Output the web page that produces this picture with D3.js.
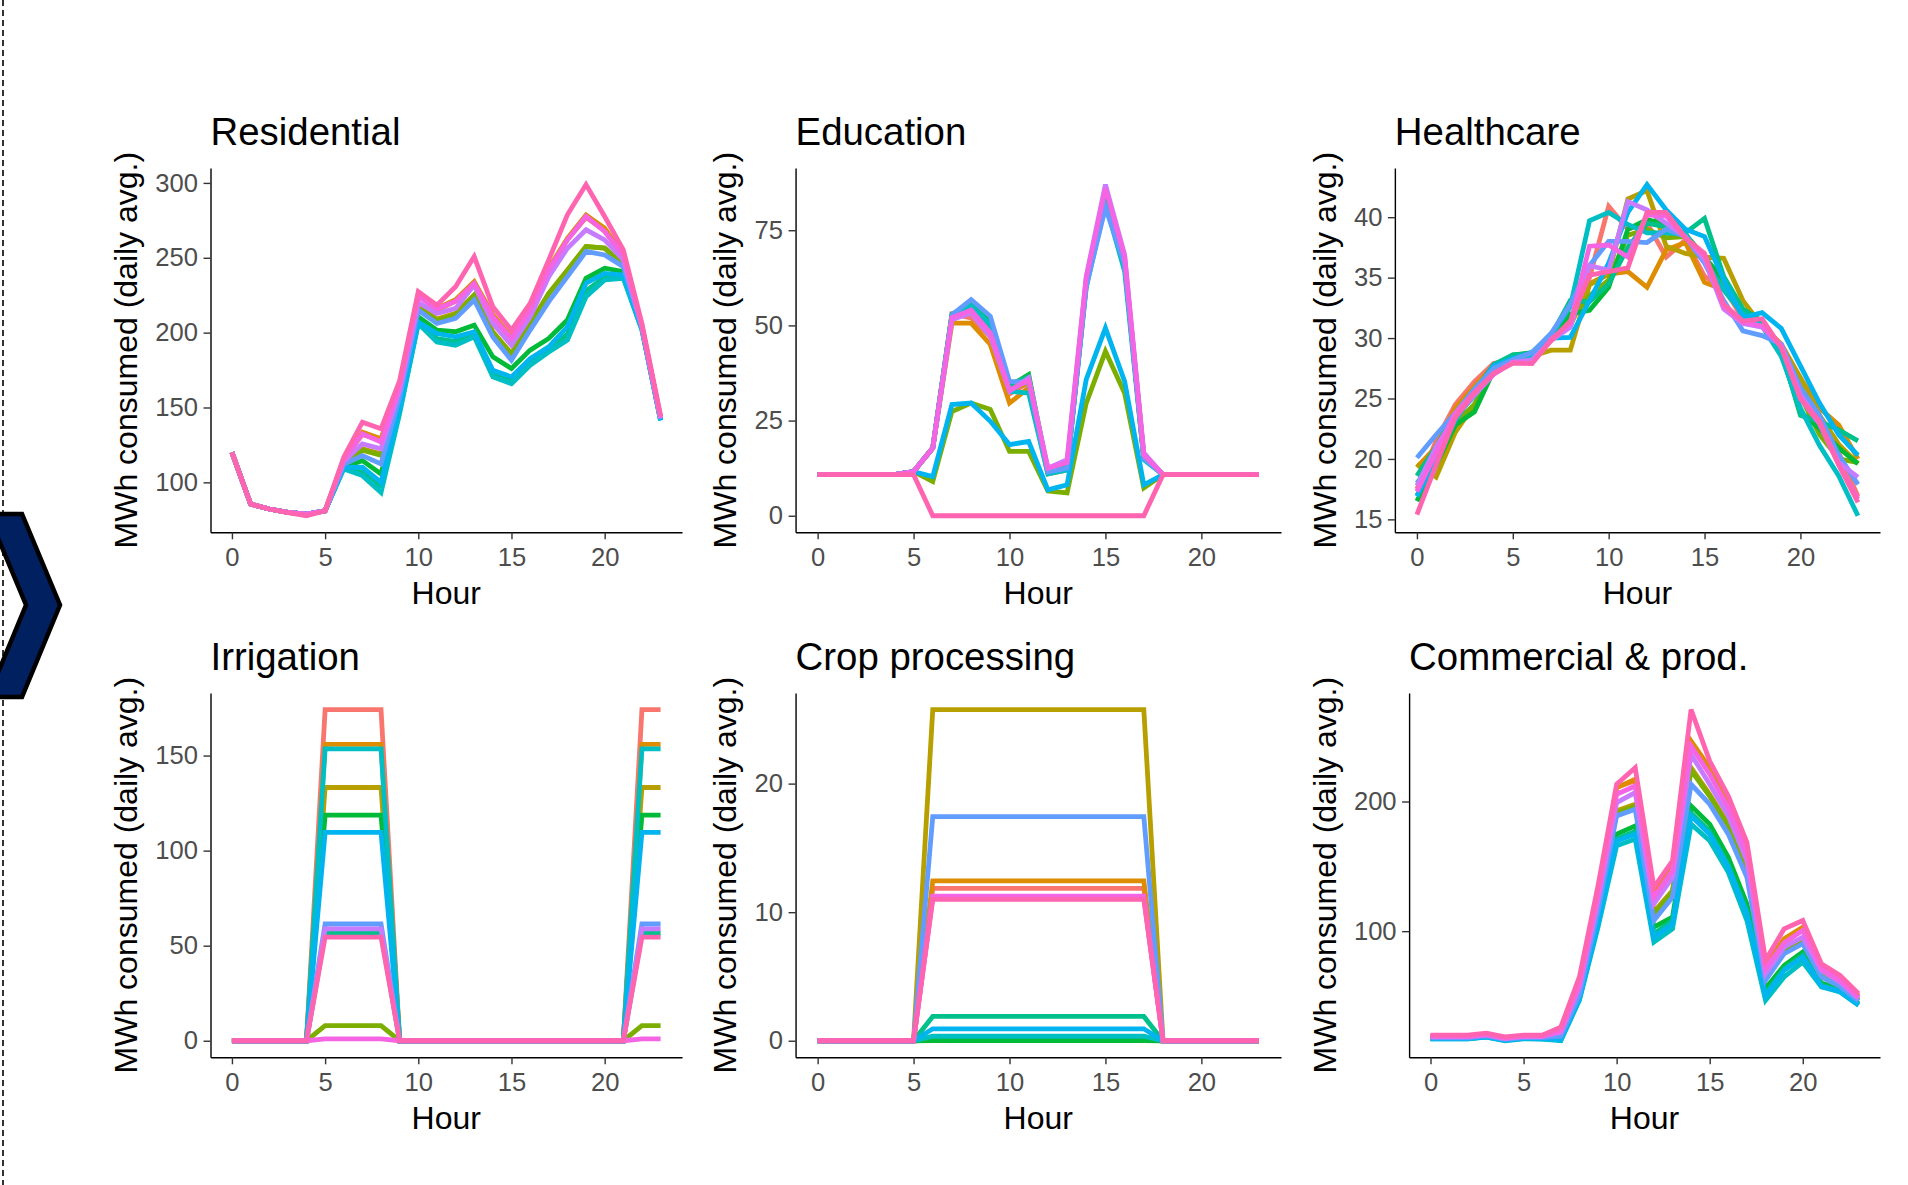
<!DOCTYPE html>
<html>
<head>
<meta charset="utf-8">
<script src="https://cdn.jsdelivr.net/npm/d3@7"></script>
<style>
body { margin: 0; background: #fff; }
svg { display: block; }
</style>
</head>
<body>
<svg id="chart" width="1908" height="1185"></svg>
<script>
// hour of day on the x axis
var hours = [0,1,2,3,4,5,6,7,8,9,10,11,12,13,14,15,16,17,18,19,20,21,22,23];
var xTicks = [0,5,10,15,20];

// ggplot hue palette, 12 series (drawn in this order, last on top)
var seriesColors = ['#F8766D','#DE8C00','#B79F00','#7CAE00','#00BA38','#00C08B',
	'#00BFC4','#00B4F0','#619CFF','#C77CFF','#F564E3','#FF64B0'];

var residential = [
	[120,85.5,82.2,80,78.8,81,115,132,128,165,225,215,221,233,211,196,215,242,262,277,268,251,204,143],
	[120,85.5,82.2,80,78.8,81,115,133.5,129.1,166,226,216.2,222,234,212,197,216,243,263,278.5,269.8,252,204,143],
	[120,85.5,82.2,80,78.8,81,113,122.4,119,160,218,209,213,225.1,200.6,186,206.1,226.2,241.9,257.5,256.4,246,204,143],
	[120,85.5,82.2,80,78.8,81,113,121.5,118,159,217,208,212,225,200,185.5,205.5,226,241.5,257.5,256.4,245,204,143],
	[120,85.5,82.2,80,78.8,81,110.5,114.5,105.6,153,210.6,201.7,200.6,205,183.8,176,188.3,196.1,208.4,236.3,243,240.8,203,142],
	[120,85.5,82.2,80,78.8,81,109.5,107,97,148,206.5,196,194,198.5,172.5,167.5,180,188.5,199,228,237,237.5,202,141.5],
	[120,85.5,82.2,80,78.8,81,109,104.5,93.3,146,206.1,193.8,191.6,197.2,170.4,165.9,178.2,187.1,195,224,235.2,236.3,201.7,141.3],
	[120,85.5,82.2,80,78.8,81,110,110.1,100,150,207,199.4,197.2,200.6,174.9,170.4,182.7,190.5,203.9,233,239.6,238.5,203,141.5],
	[120,85.5,82.2,80,78.8,81,112,117.9,112.3,157,215,206.1,209.5,221.8,197.2,181.6,201.7,220.7,237.4,254.2,251.9,244.1,204,142.5],
	[120,85.5,82.2,80,78.8,81,114,125.7,122.4,162,220,212.8,216.2,231.8,206.1,191.6,210.6,237.4,256.4,268.7,262,248.6,204,143],
	[120,85.5,82.2,80,78.8,81,115,132.5,127,164,224,216,221,232.9,210.6,196.1,215,241.9,262,277.6,267.6,251.9,204,143],
	[120,85.5,82.2,79.8,77.7,81,116.8,140.2,135.8,168,227.4,218.4,230.7,250.8,217.3,201.7,219.5,248.6,278.7,298.9,277.6,255.3,206.1,144.7]
];

var education = [
	[10.8,10.8,10.8,10.8,10.8,11.6,17.8,53,52,47,32,35,12,13,62,85,67,16,10.8,10.8,10.8,10.8,10.8,10.8],
	[10.8,10.8,10.8,10.8,10.8,11.6,17.8,50.6,50.6,45,29.6,33.6,11,12,61,84,66,15,10.8,10.8,10.8,10.8,10.8,10.8],
	[10.8,10.8,10.8,10.8,10.8,11.6,17.8,52,54,49,33,35,12,13,61,83,66,15,10.8,10.8,10.8,10.8,10.8,10.8],
	[10.8,10.8,10.8,10.8,10.8,11.6,9,27.4,29.6,27.9,16.9,16.9,6.5,6,29.6,43.2,32.2,7.3,10.8,10.8,10.8,10.8,10.8,10.8],
	[10.8,10.8,10.8,10.8,10.8,11.6,17.8,53,55.5,51,34,37.1,11.5,12.5,61,84,67,15.5,10.8,10.8,10.8,10.8,10.8,10.8],
	[10.8,10.8,10.8,10.8,10.8,11.6,17.8,52.5,55.5,50.5,34.5,36.5,11.5,12.5,61.5,84.5,66.5,15.5,10.8,10.8,10.8,10.8,10.8,10.8],
	[10.8,10.8,10.8,10.8,10.8,11.6,17.8,52.5,55,50,32.7,32.2,11,12,60,82,64.2,14.7,10.8,10.8,10.8,10.8,10.8,10.8],
	[10.8,10.8,10.8,10.8,10.8,11.6,10.3,29.2,29.6,24.8,18.7,19.5,6.8,8.1,35.8,49.3,35.3,8.1,10.8,10.8,10.8,10.8,10.8,10.8],
	[10.8,10.8,10.8,10.8,10.8,11.6,17.8,52.8,56.8,52.4,35.3,35,11.5,12.5,60.3,80.9,66,15,10.8,10.8,10.8,10.8,10.8,10.8],
	[10.8,10.8,10.8,10.8,10.8,11.6,17.8,51.5,53.3,47.1,32.7,36.2,12.5,14.7,62.9,87,68.6,16.5,10.8,10.8,10.8,10.8,10.8,10.8],
	[10.8,10.8,10.8,10.8,10.8,11.6,17.8,52,54,48,33,35.5,12.5,14,62.5,86,68,16,10.8,10.8,10.8,10.8,10.8,10.8],
	[10.8,10.8,10.8,10.8,10.8,10.8,0,0,0,0,0,0,0,0,0,0,0,0,10.8,10.8,10.8,10.8,10.8,10.8]
];

var healthcare = [
	[17.5,21.5,24.5,26.4,27.9,28.2,28.5,30,31.5,35,40.9,39,39.5,36.7,38.1,35.1,34.2,31.6,31,29.2,25.9,23.1,20.5,16.9],
	[19.3,21,24.2,26,27.7,28.2,28.4,30,31,34.5,35.3,35.5,34.2,37.3,37.9,34.6,34,32,31,29.5,26.7,24.2,22.8,20],
	[19.6,18.5,22.2,24.5,27.2,28.2,28.5,29,29,34.4,35.3,41.5,42.2,37.6,37,36.7,36.6,33.1,31,29.3,26.7,23.6,21.2,19.6],
	[17,19.5,23,24.5,27.2,28.4,28.6,30,31.5,33.5,34.8,38.5,39,38.3,38.4,36.7,34.5,32.1,31,28.8,25.2,22,20,19.7],
	[16.5,19.5,22.8,23.9,27.3,28.6,28.8,30.3,32,32.3,34.2,39,39.8,39.4,38.6,36.7,34.8,32.3,31.2,28.7,23.9,22.5,20.9,19.6],
	[18.6,21,23.8,25.5,27.8,28.6,28.7,30.2,33.1,33,34.5,37.5,39.5,39.2,38.7,39.9,35.1,32.4,31.4,29,23.6,23.1,22.4,21.5],
	[18,20,23.5,25.2,27.6,28.3,28.6,30.2,32.6,39.7,40.4,39.4,38.7,38.7,38.6,36.4,34,32,31,28.5,24.2,21.1,18.6,15.3],
	[16.9,20,23.2,25.5,27.7,28.3,28.8,30,30.05,33.1,36.2,40.4,42.7,40.6,39,38.4,34.8,31.7,32.1,30.8,27.7,24.6,22,20.3],
	[20.1,22,23.8,25.8,27.5,28.2,28.8,30.4,32.8,36,38,38,37.9,39,38.4,36.2,33.1,30.6,30.2,29.5,25.9,23.6,20.3,17.9],
	[17.8,21,23.5,25.3,27,28,28.2,29.8,30.9,36,35.6,41.3,40.6,39.5,38.4,36.5,32.4,31.2,30.9,29.4,25.3,23,19.7,18.5],
	[17.3,20.5,23.8,25.5,27,28,27.9,29.9,31.2,37.6,37.7,36.7,40.2,40.1,38.3,36.8,32.6,31.3,31,29.3,25,22.9,19.5,16.7],
	[15.4,19.5,23.4,25.5,27.1,27.9,27.9,29.8,31.4,35.2,35.5,35.8,40.4,40.4,38.3,37,32.8,31.4,31.6,29.2,25,23.1,19.5,16.4]
];

var irrigation = [
	[0,0,0,0,0,174.2,174.2,174.2,174.2,0,0,0,0,0,0,0,0,0,0,0,0,0,174.2,174.2],
	[0,0,0,0,0,155.9,155.9,155.9,155.9,0,0,0,0,0,0,0,0,0,0,0,0,0,155.9,155.9],
	[0,0,0,0,0,133.2,133.2,133.2,133.2,0,0,0,0,0,0,0,0,0,0,0,0,0,133.2,133.2],
	[0,0,0,0,0,7.9,7.9,7.9,7.9,0,0,0,0,0,0,0,0,0,0,0,0,0,7.9,7.9],
	[0,0,0,0,0,118.7,118.7,118.7,118.7,0,0,0,0,0,0,0,0,0,0,0,0,0,118.7,118.7],
	[0,0,0,0,0,56.5,56.5,56.5,56.5,0,0,0,0,0,0,0,0,0,0,0,0,0,56.5,56.5],
	[0,0,0,0,0,153.5,153.5,153.5,153.5,0,0,0,0,0,0,0,0,0,0,0,0,0,153.5,153.5],
	[0,0,0,0,0,109.6,109.6,109.6,109.6,0,0,0,0,0,0,0,0,0,0,0,0,0,109.6,109.6],
	[0,0,0,0,0,61.4,61.4,61.4,61.4,0,0,0,0,0,0,0,0,0,0,0,0,0,61.4,61.4],
	[0,0,0,0,0,58.8,58.8,58.8,58.8,0,0,0,0,0,0,0,0,0,0,0,0,0,58.8,58.8],
	[0,0,0,0,0,1,1,1,1,0,0,0,0,0,0,0,0,0,0,0,0,0,1,1],
	[0,0,0,0,0,54.5,54.5,54.5,54.5,0,0,0,0,0,0,0,0,0,0,0,0,0,54.5,54.5]
];

var cropProcessing = [
	[0,0,0,0,0,0,11.85,11.85,11.85,11.85,11.85,11.85,11.85,11.85,11.85,11.85,11.85,11.85,0,0,0,0,0,0],
	[0,0,0,0,0,0,12.43,12.43,12.43,12.43,12.43,12.43,12.43,12.43,12.43,12.43,12.43,12.43,0,0,0,0,0,0],
	[0,0,0,0,0,0,25.76,25.76,25.76,25.76,25.76,25.76,25.76,25.76,25.76,25.76,25.76,25.76,0,0,0,0,0,0],
	[0,0,0,0,0,0,0.05,0.05,0.05,0.05,0.05,0.05,0.05,0.05,0.05,0.05,0.05,0.05,0,0,0,0,0,0],
	[0,0,0,0,0,0,0.02,0.02,0.02,0.02,0.02,0.02,0.02,0.02,0.02,0.02,0.02,0.02,0,0,0,0,0,0],
	[0,0,0,0,0,0,1.89,1.89,1.89,1.89,1.89,1.89,1.89,1.89,1.89,1.89,1.89,1.89,0,0,0,0,0,0],
	[0,0,0,0,0,0,0.35,0.35,0.35,0.35,0.35,0.35,0.35,0.35,0.35,0.35,0.35,0.35,0,0,0,0,0,0],
	[0,0,0,0,0,0,0.93,0.93,0.93,0.93,0.93,0.93,0.93,0.93,0.93,0.93,0.93,0.93,0,0,0,0,0,0],
	[0,0,0,0,0,0,17.44,17.44,17.44,17.44,17.44,17.44,17.44,17.44,17.44,17.44,17.44,17.44,0,0,0,0,0,0],
	[0,0,0,0,0,0,11.15,11.15,11.15,11.15,11.15,11.15,11.15,11.15,11.15,11.15,11.15,11.15,0,0,0,0,0,0],
	[0,0,0,0,0,0,11.25,11.25,11.25,11.25,11.25,11.25,11.25,11.25,11.25,11.25,11.25,11.25,0,0,0,0,0,0],
	[0,0,0,0,0,0,11,11,11,11,11,11,11,11,11,11,11,11,0,0,0,0,0,0]
];

var commercial = [
	[19,19,19,20.5,17.8,19.2,19.2,24,61,129,211,216,128.5,149,245,225,199,163,73.5,93.5,102,71.5,63,49.5],
	[19,19,19,20.5,17.8,19.2,19.2,24,61,130,210.7,217.1,129,150,246.6,226,200,164,74,94.1,103,72,63.5,50],
	[18.2,18.2,18.2,19.6,17,18.5,18.3,20.5,54,120,192.8,197.9,115,131.3,226.1,205.6,182.5,146.6,64.5,85,93,67,59,47],
	[18,18,18,19.5,16.8,18.3,18.2,20,53,119,191,196.5,113,130,224,204,181,145.5,64,84.5,92.5,66.5,58.5,46.5],
	[17.5,17.5,17.5,19,16.2,17.8,17.5,17.5,49,110,174.8,181.2,103.1,110.8,196.6,182.5,156.9,121,55.7,73.6,83.9,60,55,44.5],
	[17.2,17.2,17.2,18.7,16,17.5,17.2,16.5,48,107,171,177,98,108,191,177,151,115,52,71,81.5,58.5,54,43.5],
	[17,17,17,18.3,15.5,17,16.8,15.5,46.7,103,165.9,171,91.6,101.8,182.5,169.7,145.4,108.2,46.7,64.7,76.2,57,53.1,42.9],
	[17,17,17,18.5,15.8,17.3,17,16,47.5,105,169.7,174.8,95.4,105.6,188.9,174.8,149.2,113.3,50,69.8,80,57.5,53.5,43],
	[17.8,17.8,17.8,19.2,16.5,18,18,19,51,116,188.9,194,108.2,126.1,213.3,197.9,174.8,141.5,62.1,82.6,90.3,64.7,57.5,46],
	[18.5,18.5,18.5,20,17.2,18.7,18.7,22,57,124,199.2,206.9,121,141.5,236.3,213.3,188.9,154.3,67.2,87.7,95.4,69.8,60.8,48],
	[18.8,18.8,18.8,20.2,17.5,19,19,23,59,127,205.6,212,126.1,146.6,242.7,221,195.3,159.5,71.1,91,100.5,71,62,49],
	[19.8,19.8,19.8,21.3,18.5,19.8,19.8,26,64.7,135,213.3,226.1,133.8,154.3,270.9,231.2,204.3,168.4,77.5,101.8,108.2,74.9,65.9,51.8]
];

var panelTitles = ['Residential','Education','Healthcare','Irrigation','Crop processing','Commercial & prod.'];
var panelData = [residential, education, healthcare, irrigation, cropProcessing, commercial];
var panelYTicks = [[100,150,200,250,300],[0,25,50,75],[15,20,25,30,35,40],[0,50,100,150],[0,10,20],[100,200]];

var xLabel = 'Hour';
var yLabel = 'MWh consumed (daily avg.)';

var fontFamily = '"Liberation Sans", Arial, Helvetica, sans-serif';
var titleSize = 38.4, axisTitleSize = 32, tickSize = 25.6;

var svg = d3.select('#chart');

// dashed separator on the far left
svg.append('line')
	.attr('x1', 3).attr('x2', 3)
	.attr('y1', 0).attr('y2', 1185)
	.attr('stroke', '#000')
	.attr('stroke-width', 1.6)
	.attr('stroke-dasharray', '6,4');

// navy chevron
var chevron = [[-12,514],[22,514],[60,605],[22,697],[-12,697],[26,605]];
svg.append('path')
	.attr('d', d3.line()(chevron) + 'Z')
	.attr('fill', '#002060')
	.attr('stroke', '#000')
	.attr('stroke-width', 4.5)
	.attr('stroke-linejoin', 'miter');

var measure = function(str, size) {
	var t = svg.append('text')
		.attr('font-family', fontFamily)
		.attr('font-size', size)
		.text(str);
	var w = t.node().getComputedTextLength();
	t.remove();
	return w;
}

// add 5% either side, like ggplot's default expansion
var expand = function(ext) {
	var pad = (ext[1] - ext[0]) * 0.05;
	return [ext[0] - pad, ext[1] + pad];
}

var drawPanel = function(idx) {
	var col = idx % 3;
	var row = Math.floor(idx / 3);
	var data = panelData[idx];
	var yTicks = panelYTicks[idx];

	var yTitleX = 137 + col * 599.3;
	var labelW = d3.max(yTicks, v => measure(String(v), tickSize));
	var left = yTitleX + 15 + labelW + 15.8;
	var right = 682 + col * 599;
	var top = 168 + row * 525;
	var bottom = 532.3 + row * 525;

	var x = d3.scaleLinear()
		.domain(expand(d3.extent(hours)))
		.range([left, right]);
	var y = d3.scaleLinear()
		.domain(expand(d3.extent(data.flat())))
		.range([bottom, top]);

	var g = svg.append('g').attr('class', 'panel');

	// series lines
	var line = d3.line()
		.x((d, i) => x(hours[i]))
		.y(d => y(d));

	g.selectAll('path.series')
		.data(data)
		.enter()
		.append('path')
		.attr('class', 'series')
		.attr('d', line)
		.attr('fill', 'none')
		.attr('stroke', (d, i) => seriesColors[i])
		.attr('stroke-width', 4.8)
		.attr('stroke-linejoin', 'miter')
		.attr('stroke-miterlimit', 4);

	// axes
	var xAxis = g.append('g')
		.attr('transform', 'translate(0,' + bottom + ')')
		.call(d3.axisBottom(x).tickValues(xTicks).tickSize(7).tickSizeOuter(0).tickPadding(8.5));
	var yAxis = g.append('g')
		.attr('transform', 'translate(' + left + ',0)')
		.call(d3.axisLeft(y).tickValues(yTicks).tickSize(7).tickSizeOuter(0).tickPadding(5.5));

	[xAxis, yAxis].forEach(function(a) {
		a.select('.domain').attr('stroke', '#000').attr('stroke-width', 1.4);
		a.selectAll('.tick line').attr('stroke', '#333333').attr('stroke-width', 1.4);
		a.selectAll('.tick text')
			.attr('fill', '#4D4D4D')
			.attr('font-family', fontFamily)
			.attr('font-size', tickSize);
	});

	// panel title
	g.append('text')
		.attr('x', left)
		.attr('y', top - 23)
		.attr('font-family', fontFamily)
		.attr('font-size', titleSize)
		.attr('fill', '#000')
		.text(panelTitles[idx]);

	// axis titles
	g.append('text')
		.attr('x', (left + right) / 2)
		.attr('y', bottom + 71.5)
		.attr('text-anchor', 'middle')
		.attr('font-family', fontFamily)
		.attr('font-size', axisTitleSize)
		.attr('fill', '#000')
		.text(xLabel);

	g.append('text')
		.attr('transform', 'translate(' + yTitleX + ',' + ((top + bottom) / 2) + ') rotate(-90)')
		.attr('text-anchor', 'middle')
		.attr('font-family', fontFamily)
		.attr('font-size', axisTitleSize)
		.attr('fill', '#000')
		.text(yLabel);
}

panelTitles.forEach((t, i) => drawPanel(i));
</script>
</body>
</html>
